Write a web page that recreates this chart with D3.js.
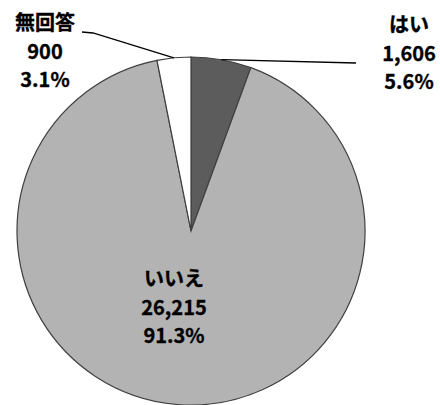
<!DOCTYPE html>
<html>
<head>
<meta charset="utf-8">
<script src="https://cdn.jsdelivr.net/npm/d3@7"></script>
<style>
  body { margin: 0; background: #fff; }
  text { font-family: "Noto Sans CJK JP", "Noto Sans", sans-serif; font-weight: bold; fill: #000; stroke: #000; stroke-width: 0.35px; }
</style>
</head>
<body>
<script>
// chart values
var categories = ["はい", "いいえ", "無回答"];
var counts = [1606, 26215, 900];
var percents = ["5.6%", "91.3%", "3.1%"];
var colors = ["#5c5c5c", "#b3b3b3", "#ffffff"];

var width = 440,
    height = 405;

// pie geometry
var cx = 191, cy = 231, radius = 174;

// where each label block is centered (x), and the top line baseline (y)
var labelPos = [
  { x: 409, y: 32, lead: [[356, 63]] },
  { x: 174, y: 286, lead: null },
  { x: 45, y: 30, lead: [[93, 33], [82, 32]] }
];

var data = categories.map(function (c, i) {
  return { name: c, value: counts[i], pct: percents[i], color: colors[i], pos: labelPos[i] };
});

var svg = d3.select("body").append("svg")
    .attr("width", width)
    .attr("height", height);

var pie = d3.pie()
    .sort(null)
    .value(function (d) { return d.value; });

var arc = d3.arc()
    .innerRadius(0)
    .outerRadius(radius);

// arc used to find the point on the rim for leader lines
var rim = d3.arc()
    .innerRadius(radius)
    .outerRadius(radius);

var arcs = pie(data);

var g = svg.append("g")
    .attr("transform", "translate(" + cx + "," + cy + ")");

g.selectAll("path.slice")
    .data(arcs)
    .enter().append("path")
    .attr("class", "slice")
    .attr("d", arc)
    .style("fill", function (d) { return d.data.color; })
    .style("stroke", "#404040")
    .style("stroke-width", 1.2);

// leader lines
var line = d3.line();
arcs.forEach(function (d) {
  if (!d.data.pos.lead) return;
  var p = rim.centroid(d);
  var pts = [[p[0] + cx, p[1] + cy]].concat(d.data.pos.lead);
  svg.append("path")
      .attr("d", line(pts))
      .style("fill", "none")
      .style("stroke", "#000")
      .style("stroke-width", 1.3);
});

// labels
var fmt = d3.format(",");
arcs.forEach(function (d) {
  var t = svg.append("text")
      .attr("text-anchor", "middle")
      .style("font-size", "20px");
  var lines = [d.data.name, fmt(d.data.value), d.data.pct];
  lines.forEach(function (s, i) {
    t.append("tspan")
        .attr("x", d.data.pos.x)
        .attr("y", d.data.pos.y + i * 28.5)
        .text(s);
  });
});
</script>
</body>
</html>
